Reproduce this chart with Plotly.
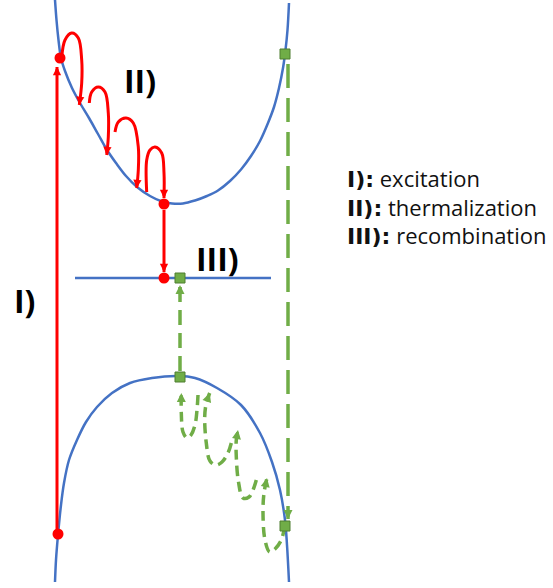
"""Band diagram: excitation, thermalization and recombination via a defect level."""

import math

import plotly.graph_objects as go

# Picture coordinates (x to the right, y downwards)
cb_x = [55, 56.5, 58.5, 61, 65, 72, 80, 89, 98, 107, 116, 126, 137, 150, 162, 172,
        183, 195, 207, 218, 230, 241, 251, 260, 268, 274, 279, 283, 285.5, 287.5, 289]
cb_y = [0, 20, 40, 58, 71, 88, 103, 118, 134, 150, 163, 176, 187, 196, 201.5, 203.5,
        203.5, 200.5, 196, 190.5, 181, 169.5, 156, 141, 123, 107, 88, 68, 50, 30, 3]

vb_x = [55, 56, 58, 61, 64, 69, 77, 86, 97, 112, 130, 152, 178, 195, 217, 241, 260, 272, 280, 285, 287, 289]
vb_y = [582, 560, 535, 505, 483, 460, 440, 422, 407, 393, 383, 378, 376, 378, 388, 405, 433, 462, 490, 520, 545, 582]

defect_x = [75, 271]
defect_y = [278, 278]

# electrons (red dots) and holes (green squares)
electron_x = [60, 164, 164, 58]
electron_y = [58, 204, 278, 534]
hole_x = [285, 180, 180, 285]
hole_y = [54, 377, 278, 526]

# straight arrows: (x, y) from tail to tip
excitation_x = [57, 57]
excitation_y = [530, 67]
capture_x = [164, 164]
capture_y = [210, 272]
hole_capture_x = [180, 180]
hole_capture_y = [371, 285]
recomb_x = [288, 288]
recomb_y = [64, 519]

# thermalization hops of the electron (tail to tip)
red_hops = [
    ([61.7, 65, 71.7, 78.3, 81.7, 81.7, 79.3], [58, 40, 33, 38, 60, 83, 105]),
    ([89.3, 91.7, 98.3, 105, 108.3, 108.3, 106.7], [103, 92, 87, 92, 113, 137, 155]),
    ([115, 118.3, 126, 133.3, 138.3, 138.3, 136.7], [132, 122, 118, 123, 147, 170, 188]),
    ([146.7, 146.7, 150, 155, 161.7, 164, 164], [192, 160, 150, 147, 153, 173, 198]),
]

# thermalization hops of the hole (tail to tip)
green_hops = [
    ([198, 197, 195, 191, 187, 183, 181.3, 181.3], [395, 410, 425, 435, 438, 432, 413, 393]),
    ([231.3, 228, 222, 216, 210, 206.3, 204.7, 206.3, 209.7], [443, 453, 462, 465, 461, 443, 417, 403, 393]),
    ([256.3, 253, 249, 243, 238.5, 236.3, 236.3, 238], [480, 490, 497, 498, 482, 457, 440, 430]),
    ([284.7, 281.3, 275, 269.7, 265, 263, 264, 267], [526, 540, 549, 552, 540, 513, 493, 478]),
]

labels = ["I)", "II)", "III)"]
label_x = [24, 140, 217]
label_y = [300, 80, 258]

legend_keys = ["I):", "II):", "III):"]
legend_names = ["excitation", "thermalization", "recombination"]

BLUE = "#4472C4"
RED = "#FF0000"
GREEN = "#70AD47"
GREEN_EDGE = "#4E7F30"

fig = go.Figure()
heads = []


def add_head(xs, ys, color, width, size):
    # arrowhead at the last point, pointing along the last segment
    dx = xs[-1] - xs[-2]
    dy = ys[-1] - ys[-2]
    n = math.hypot(dx, dy)
    heads.append(
        dict(
            x=xs[-1],
            y=ys[-1],
            ax=xs[-1] - dx / n * 8,
            ay=ys[-1] - dy / n * 8,
            xref="x",
            yref="y",
            axref="x",
            ayref="y",
            text="",
            showarrow=True,
            arrowhead=2,
            arrowsize=size,
            arrowwidth=width,
            arrowcolor=color,
            standoff=0,
        )
    )


# Bands and defect level
for xs, ys in [(cb_x, cb_y), (vb_x, vb_y)]:
    fig.add_scatter(x=xs, y=ys, mode="lines", line={"color": BLUE, "width": 2.5, "shape": "spline"})
fig.add_scatter(x=defect_x, y=defect_y, mode="lines", line={"color": BLUE, "width": 2.5})

# Red electron arrows
for xs, ys in [(excitation_x, excitation_y), (capture_x, capture_y)]:
    fig.add_scatter(x=xs, y=ys, mode="lines", line={"color": RED, "width": 3})
    add_head(xs, ys, RED, 3, 0.55)
for xs, ys in red_hops:
    fig.add_scatter(x=xs, y=ys, mode="lines", line={"color": RED, "width": 3, "shape": "spline"})
    add_head(xs, ys, RED, 3, 0.55)

# Green dashed hole arrows
fig.add_scatter(
    x=recomb_x, y=recomb_y, mode="lines", line={"color": GREEN, "width": 3.5, "dash": "24px,10px"}
)
add_head(recomb_x, recomb_y, GREEN, 3, 0.6)
fig.add_scatter(
    x=hole_capture_x, y=hole_capture_y, mode="lines", line={"color": GREEN, "width": 3.5, "dash": "15px,8px"}
)
add_head(hole_capture_x, hole_capture_y, GREEN, 3, 0.6)
for xs, ys in green_hops:
    fig.add_scatter(
        x=xs, y=ys, mode="lines", line={"color": GREEN, "width": 3.5, "dash": "10px,6px", "shape": "spline"}
    )
    add_head(xs, ys, GREEN, 3, 0.6)

# Particles
fig.add_scatter(x=electron_x, y=electron_y, mode="markers", marker={"color": RED, "size": 11})
fig.add_scatter(
    x=hole_x,
    y=hole_y,
    mode="markers",
    marker={"color": GREEN, "size": 10, "symbol": "square", "line": {"color": GREEN_EDGE, "width": 1}},
)

for text, x, y in zip(labels, label_x, label_y):
    fig.add_annotation(
        x=x, y=y, text=f"<b>{text}</b>", showarrow=False,
        font={"family": "Open Sans", "size": 32, "color": "black"},
    )

# Legend text on the right (one block, three lines)
rows = [
    f"<span style='font-family:DejaVu Sans;font-weight:bold'>{key}</span> {name}"
    for key, name in zip(legend_keys, legend_names)
]
fig.add_annotation(
    x=345, y=206, showarrow=False, xanchor="left", align="left",
    text="<br>".join(rows),
    font={"family": "Open Sans", "size": 22, "color": "#111111"},
)

for h in heads:
    fig.add_annotation(**h)

fig.update_layout(
    width=553,
    height=588,
    margin={"l": 0, "r": 0, "t": 0, "b": 0},
    showlegend=False,
    plot_bgcolor="white",
    paper_bgcolor="white",
)
fig.update_xaxes(range=[0, 553], visible=False)
fig.update_yaxes(range=[588, 0], visible=False)

fig.write_html(
    "out.html",
    config={"displayModeBar": False},
    post_script="document.body.style.margin = '0';",
)
